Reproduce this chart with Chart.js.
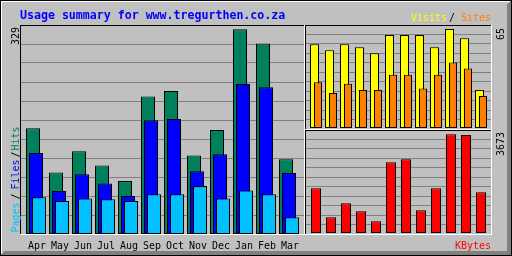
<!DOCTYPE html>
<html><head><meta charset="utf-8">
<script src="https://cdn.jsdelivr.net/npm/chart.js@4/dist/chart.umd.min.js"></script>
<style>
html,body{margin:0;padding:0;background:#c0c0c0;}
#wrap{position:relative;width:512px;height:256px;overflow:hidden;}
canvas{position:absolute;left:0;top:0;}
</style></head><body>
<div id="wrap">
<canvas id="cMain" width="512" height="256"></canvas>
<canvas id="cVis" width="512" height="256"></canvas>
<canvas id="cKb" width="512" height="256"></canvas>
</div>
<script>
// ---- data ----
const months = ['Apr','May','Jun','Jul','Aug','Sep','Oct','Nov','Dec','Jan','Feb','Mar'];
const hits   = [170, 99,133,110, 85,221,230,126,167,329,306,120];
const files  = [130, 69, 96, 81, 61,183,185,101,128,241,236, 98];
const pages  = [ 59, 53, 57, 56, 53, 64, 64, 77, 57, 70, 64, 27];
const visits = [ 55, 51, 55, 53, 49, 61, 61, 61, 53, 65, 59, 25];
const sites  = [ 30, 23, 29, 25, 25, 35, 35, 26, 35, 43, 39, 21];
const kbytes = [1663,584,1105,807,435,2631,2743,845,1663,3673,3650,1515];
const title = 'Usage summary for www.tregurthen.co.za';

const C = {grey:'#c0c0c0', dk:'#808080', black:'#000000', white:'#ffffff',
  hits:'#00805c', files:'#0000ff', pages:'#00c0ff', visits:'#ffff00', sites:'#ff8000', kb:'#ff0000', title:'#0000ff'};
const MONO = "'DejaVu Sans Mono', monospace";
Chart.defaults.animation = false;
Chart.defaults.font.family = MONO;

function pts(arr, off){ return arr.map((v,i)=>({x:i+off, y:v})); }
function bars(label, arr, off, color, thick, order){
  return {label, data: pts(arr, off), backgroundColor: color, borderColor: C.black, borderWidth: 1,
    borderSkipped: false, barThickness: thick, grouped: false, inflateAmount: 0, order};
}
function gridAxis(){
  return {position:'left', min:0, max:11, display:true,
    ticks:{display:false, stepSize:1}, grid:{color:C.dk, lineWidth:1, drawTicks:false}, border:{display:false}};
}
function xAxis(min, max){
  return {type:'linear', min, max, offset:false, display:false, grid:{offset:false}};
}
function hl(ctx,x1,x2,y,c){ ctx.fillStyle=c; ctx.fillRect(x1,y,x2-x1+1,1); }
function vl(ctx,x,y1,y2,c){ ctx.fillStyle=c; ctx.fillRect(x,y1,1,y2-y1+1); }
function frame(ctx,a){
  const l=Math.round(a.left), t=Math.round(a.top), r=Math.round(a.right), b=Math.round(a.bottom);
  hl(ctx,l,r,t,C.black); vl(ctx,l,t,b,C.black); hl(ctx,l,r,b,C.white); vl(ctx,r,t,b,C.white);
}
function upText(ctx, txt, x, y, color, font){
  ctx.save(); ctx.translate(x,y); ctx.rotate(-Math.PI/2);
  ctx.font = font || ('10px '+MONO); ctx.fillStyle = color; ctx.textBaseline='alphabetic'; ctx.textAlign='left';
  ctx.fillText(txt,0,0); ctx.restore();
}
const baseOpts = {responsive:false, devicePixelRatio:1, animation:false,
  plugins:{legend:{display:false}, tooltip:{enabled:false}, title:{display:false}}};

// ---- main chart: hits / files / pages ----
const mainDecor = {
  id:'mainDecor',
  beforeDraw(chart){
    const ctx = chart.ctx, W = chart.width, H = chart.height;
    ctx.save();
    ctx.fillStyle = C.grey; ctx.fillRect(0,0,W,H);
    for (let i=0;i<2;i++){
      hl(ctx,i,W-1-i,i,C.white); vl(ctx,i,i,H-1-i,C.white);
    }
    for (let i=1;i<5;i++){
      hl(ctx,i,W-1-i,H-1-i,C.dk); vl(ctx,W-1-i,i,H-1-i,C.dk);
    }
    ctx.strokeStyle = C.black; ctx.lineWidth=1; ctx.strokeRect(0.5,0.5,W-1,H-1);
    ctx.restore();
  },
  afterDraw(chart){
    const ctx = chart.ctx, a = chart.chartArea, xs = chart.scales.x;
    ctx.save();
    frame(ctx,a);
    ctx.font = 'bold 11.6px '+MONO; ctx.fillStyle = C.title; ctx.textBaseline='alphabetic';
    ctx.fillText(title, 20, 19);
    ctx.font = '10px '+MONO; ctx.fillStyle = C.black; ctx.textAlign='center';
    months.forEach((m,i)=>{ ctx.fillText(m, Math.round(xs.getPixelForValue(i))+1, 249); });
    upText(ctx, String(Math.max(...hits)), 18.5, 45, C.black);
    upText(ctx, 'Pages', 18.5, 232.5, C.pages);
    upText(ctx, '/', 18.5, 199.5, C.black);
    upText(ctx, 'Files', 18.5, 189.5, C.files);
    upText(ctx, '/', 18.5, 157.5, C.black);
    upText(ctx, 'Hits', 18.5, 150.5, C.hits);
    ctx.textAlign='left';
    ctx.fillStyle = C.visits; ctx.fillText('Visits', 411, 21);
    ctx.fillStyle = C.black;  ctx.fillText('/', 449, 21);
    ctx.fillStyle = C.sites;  ctx.fillText('Sites', 461, 21);
    ctx.fillStyle = C.kb;     ctx.fillText('KBytes', 455, 249);
    ctx.restore();
  }
};
new Chart(document.getElementById('cMain'), {
  type:'bar',
  data:{datasets:[
    bars('Hits',  hits,  -3/23, C.hits, 14, 2),
    bars('Files', files,  0,    C.files,14, 1),
    bars('Pages', pages,  3/23, C.pages,14, 0)
  ]},
  options:{...baseOpts,
    layout:{padding:{left:20, top:25, right:208, bottom:22}},
    scales:{
      x: xAxis(-16/23, -16/23+284/23),
      y:{min:0, max:335.9, display:false},
      yGrid: gridAxis()
    }},
  plugins:[mainDecor]
});

// ---- visits / sites ----
const visDecor = {id:'visDecor', afterDraw(chart){
  const ctx=chart.ctx; ctx.save(); frame(ctx, chart.chartArea);
  upText(ctx, String(Math.max(...visits)), 503.5, 40, C.black); ctx.restore(); }};
new Chart(document.getElementById('cVis'), {
  type:'bar',
  data:{datasets:[
    bars('Visits', visits, -0.1,   C.visits, 9, 1),
    bars('Sites',  sites,  2/15,   C.sites,  8, 0)
  ]},
  options:{...baseOpts,
    layout:{padding:{left:305, top:25, right:21, bottom:127}},
    scales:{
      x: xAxis(-11/15, -11/15+186/15),
      y:{min:-65/99, max:65+4*65/99, display:false},
      yGrid: gridAxis()
    }},
  plugins:[visDecor]
});

// ---- kbytes ----
const kbDecor = {id:'kbDecor', afterDraw(chart){
  const ctx=chart.ctx; ctx.save(); frame(ctx, chart.chartArea);
  upText(ctx, String(Math.max(...kbytes)), 503.5, 156, C.black); ctx.restore(); }};
new Chart(document.getElementById('cKb'), {
  type:'bar',
  data:{datasets:[ bars('KBytes', kbytes, 0, C.kb, 10, 0) ]},
  options:{...baseOpts,
    layout:{padding:{left:305, top:130, right:21, bottom:22}},
    scales:{
      x: xAxis(-11/15, -11/15+186/15),
      y:{min:-37.2, max:3673+4.3*37.2, display:false},
      yGrid: gridAxis()
    }},
  plugins:[kbDecor]
});
</script>
</body></html>
